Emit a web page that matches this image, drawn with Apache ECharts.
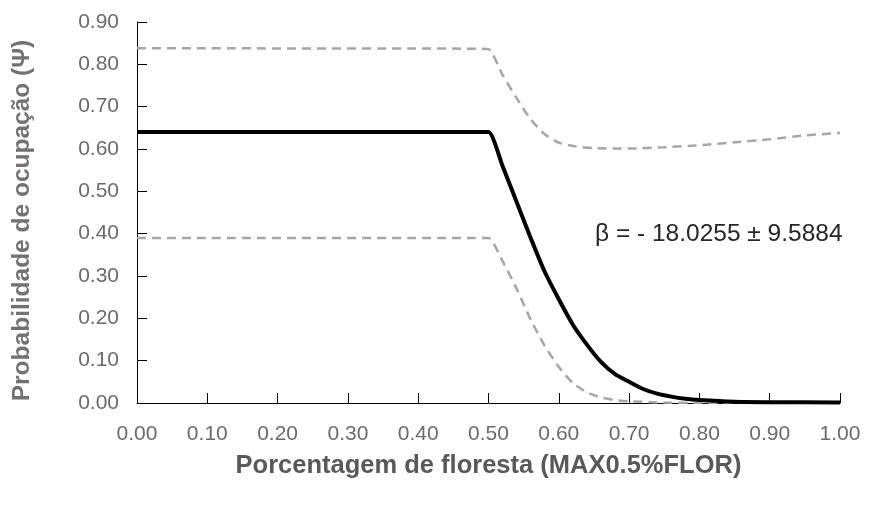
<!DOCTYPE html>
<html>
<head>
<meta charset="utf-8">
<script src="https://cdn.jsdelivr.net/npm/echarts@6/dist/echarts.min.js"></script>
<style>html,body{margin:0;padding:0;background:#fff}#c{width:871px;height:505px}</style>
</head>
<body>
<div id="c"></div>
<script>
// Estimated values
const xMid   = [0.00, 0.48, 0.50, 0.52, 0.54, 0.56, 0.58, 0.60, 0.62, 0.64, 0.66, 0.68, 0.70, 0.72, 0.74, 0.76, 0.78, 0.80, 0.85, 0.90, 1.00];
const psiMid = [0.64, 0.64, 0.64, 0.56, 0.475, 0.39, 0.31, 0.245, 0.185, 0.138, 0.097, 0.068, 0.05, 0.033, 0.022, 0.015, 0.010, 0.007, 0.003, 0.002, 0.001];

const xUp    = [0.00, 0.48, 0.50, 0.52, 0.54, 0.56, 0.58, 0.60, 0.62, 0.65, 0.70, 0.75, 0.80, 0.85, 0.90, 0.95, 1.00];
const psiUp  = [0.838, 0.837, 0.836, 0.775, 0.72, 0.67, 0.635, 0.615, 0.607, 0.602, 0.601, 0.604, 0.609, 0.616, 0.623, 0.632, 0.638];

const xLow   = [0.00, 0.48, 0.50, 0.52, 0.54, 0.56, 0.58, 0.60, 0.62, 0.64, 0.66, 0.68, 0.70, 0.75, 0.80, 1.00];
const psiLow = [0.39, 0.39, 0.39, 0.335, 0.27, 0.197, 0.135, 0.085, 0.047, 0.025, 0.013, 0.007, 0.004, 0.001, 0.0, 0.0];

const annotation = 'β = - 18.0255 ± 9.5884';
const xTitle = 'Porcentagem de floresta (MAX0.5%FLOR)';
const yTitle = 'Probabilidade de ocupação (Ψ)';

const pairs = (xs, ys) => xs.map((x, i) => [x, ys[i]]);

const chart = echarts.init(document.getElementById('c'), null, {renderer: 'canvas'});
const axisTxt = {color: '#6b6b6b', fontFamily: 'Liberation Sans, Arial, sans-serif', fontSize: 21};
chart.setOption({
  animation: false,
  backgroundColor: '#fff',
  grid: {left: 137, right: 31, top: 22, bottom: 102, containLabel: false, outerBoundsMode: 'none'},
  xAxis: {
    type: 'value', min: 0, max: 1, interval: 0.1,
    axisLine: {show: true, lineStyle: {color: '#000', width: 1}},
    axisTick: {show: true, inside: true, length: 10, lineStyle: {color: '#000'}},
    splitLine: {show: false},
    axisLabel: Object.assign({margin: 21, formatter: v => v.toFixed(2)}, axisTxt),
    name: xTitle, nameLocation: 'middle', nameGap: 50,
    nameTextStyle: {color: '#595959', fontFamily: 'Liberation Sans, Arial, sans-serif', fontSize: 25.5, fontWeight: 'bold'}
  },
  yAxis: {
    type: 'value', min: 0, max: 0.9, interval: 0.1,
    axisLine: {show: true, lineStyle: {color: '#000', width: 1}},
    axisTick: {show: true, inside: true, length: 10, lineStyle: {color: '#000'}},
    splitLine: {show: false},
    axisLabel: Object.assign({margin: 18, formatter: v => v.toFixed(2)}, axisTxt),
    name: yTitle, nameLocation: 'middle', nameGap: 102, nameRotate: 90,
    nameTextStyle: {color: '#767171', fontFamily: 'Liberation Sans, Arial, sans-serif', fontSize: 24.5, fontWeight: 'bold', padding: [0, 16, 0, 0]}
  },
  series: [
    {type: 'line', data: pairs(xUp, psiUp), showSymbol: false, smooth: 0.2,
     lineStyle: {color: '#a6a6a6', width: 2.5, type: [9, 6]}, z: 2},
    {type: 'line', data: pairs(xLow, psiLow), showSymbol: false, smooth: 0.2,
     lineStyle: {color: '#a6a6a6', width: 2.5, type: [9, 6]}, z: 2},
    {type: 'line', data: pairs(xMid, psiMid), showSymbol: false, smooth: 0.2,
     lineStyle: {color: '#000', width: 4}, z: 3}
  ],
  graphic: [{
    type: 'text', left: 595, top: 222,
    style: {text: annotation, fill: '#262626', font: '24.5px "Liberation Sans", Arial, sans-serif'}
  }]
});
</script>
</body>
</html>
